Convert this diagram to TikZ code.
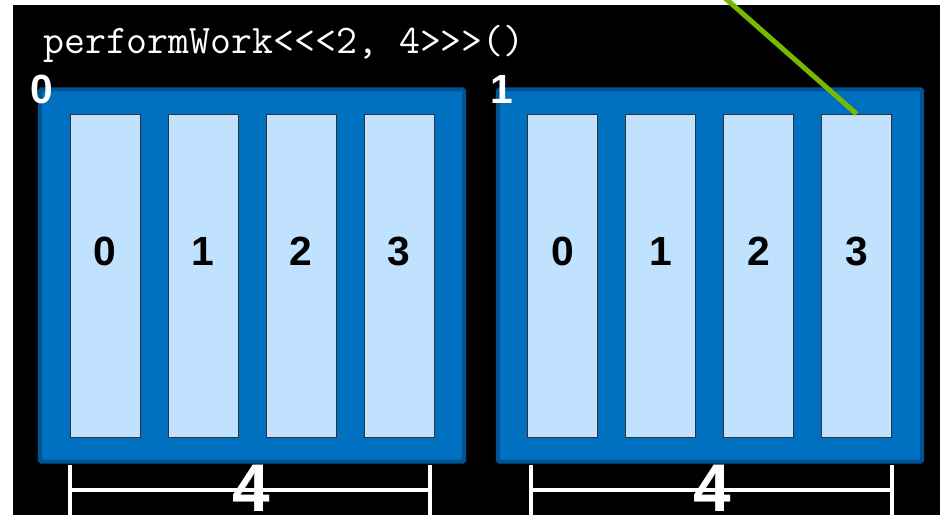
\documentclass[tikz,border=0pt]{standalone}
\usepackage{fontspec}
\newfontfamily\labelfont{Liberation Sans}
\usepackage{tikz}
\usetikzlibrary{positioning}
\definecolor{blockblue}{RGB}{0,112,192}
\definecolor{blockedge}{RGB}{0,84,147}
\definecolor{threadfill}{RGB}{192,226,255}
\definecolor{nvgreen}{RGB}{118,185,0}

\begin{document}
\begin{tikzpicture}[
  x=0.025cm, y=-0.025cm,
  block/.style={rectangle, draw=blockedge, fill=blockblue, line width=0.1cm, rounded corners=1pt, minimum width=10.6cm, minimum height=9.3cm},
  thread/.style={rectangle, draw=black!80, fill=threadfill, line width=0.5pt, minimum width=1.75cm, minimum height=8.075cm, inner sep=0pt, outer sep=0pt},
  num/.style={font=\labelfont\bfseries\fontsize{29}{32}\selectfont, inner sep=0pt},
  blockid/.style={num, text=white},
  code/.style={font=\ttfamily\fontsize{28.9}{32}\selectfont, text=white, inner sep=0pt},
  dim/.style={draw=white, line width=0.1cm},
  dimlabel/.style={font=\labelfont\bfseries\fontsize{48}{50}\selectfont, text=white, inner sep=0pt},
  pointer/.style={draw=nvgreen, line width=0.125cm}
]
  \useasboundingbox (0,0) rectangle (940,515);
  \clip (0,0) rectangle (940,515);
  \fill[black] (13,5) rectangle (940,515);

  \node[code, anchor=base west] (call) at (43,53) {performWork<<<2, 4>>>()};

  % block 0
  \node[block] (b0) at (252,275.5) {};
  \node[thread] (t00) at (105,275.5) {};
  \node[thread, right=0.7cm of t00] (t01) {};
  \node[thread, right=0.7cm of t01] (t02) {};
  \node[thread, right=0.7cm of t02] (t03) {};
  \node[num] (n00) at ([yshift=0.61cm]t00.center) {0};
  \node[num] (n01) at ([yshift=0.61cm]t01.center) {1};
  \node[num] (n02) at ([yshift=0.61cm]t02.center) {2};
  \node[num] (n03) at ([yshift=0.61cm]t03.center) {3};
  \node[blockid] (id0) at (42,89) {0};

  % block 1
  \node[block] (b1) at (710,275.5) {};
  \node[thread] (t10) at (562.5,275.5) {};
  \node[thread, right=0.7cm of t10] (t11) {};
  \node[thread, right=0.7cm of t11] (t12) {};
  \node[thread, right=0.7cm of t12] (t13) {};
  \node[num] (n10) at ([yshift=0.61cm]t10.center) {0};
  \node[num] (n11) at ([yshift=0.61cm]t11.center) {1};
  \node[num] (n12) at ([yshift=0.61cm]t12.center) {2};
  \node[num] (n13) at ([yshift=0.61cm]t13.center) {3};
  \node[blockid] (id1) at (502,89) {1};

  % block size brackets
  \draw[dim] (70,465) -- (70,520) (70,490) -- (430,490) (430,465) -- (430,520);
  \draw[dim] (531,465) -- (531,520) (531,490) -- (892,490) (892,465) -- (892,520);
  \node[dimlabel, anchor=north] (w0) at (251,465) {4};
  \node[dimlabel, anchor=north] (w1) at (712,465) {4};

  % pointer into the picture
  \coordinate (tip) at (725,-2);
  \draw[pointer] (tip) -- (t13.north);
\end{tikzpicture}
\end{document}
